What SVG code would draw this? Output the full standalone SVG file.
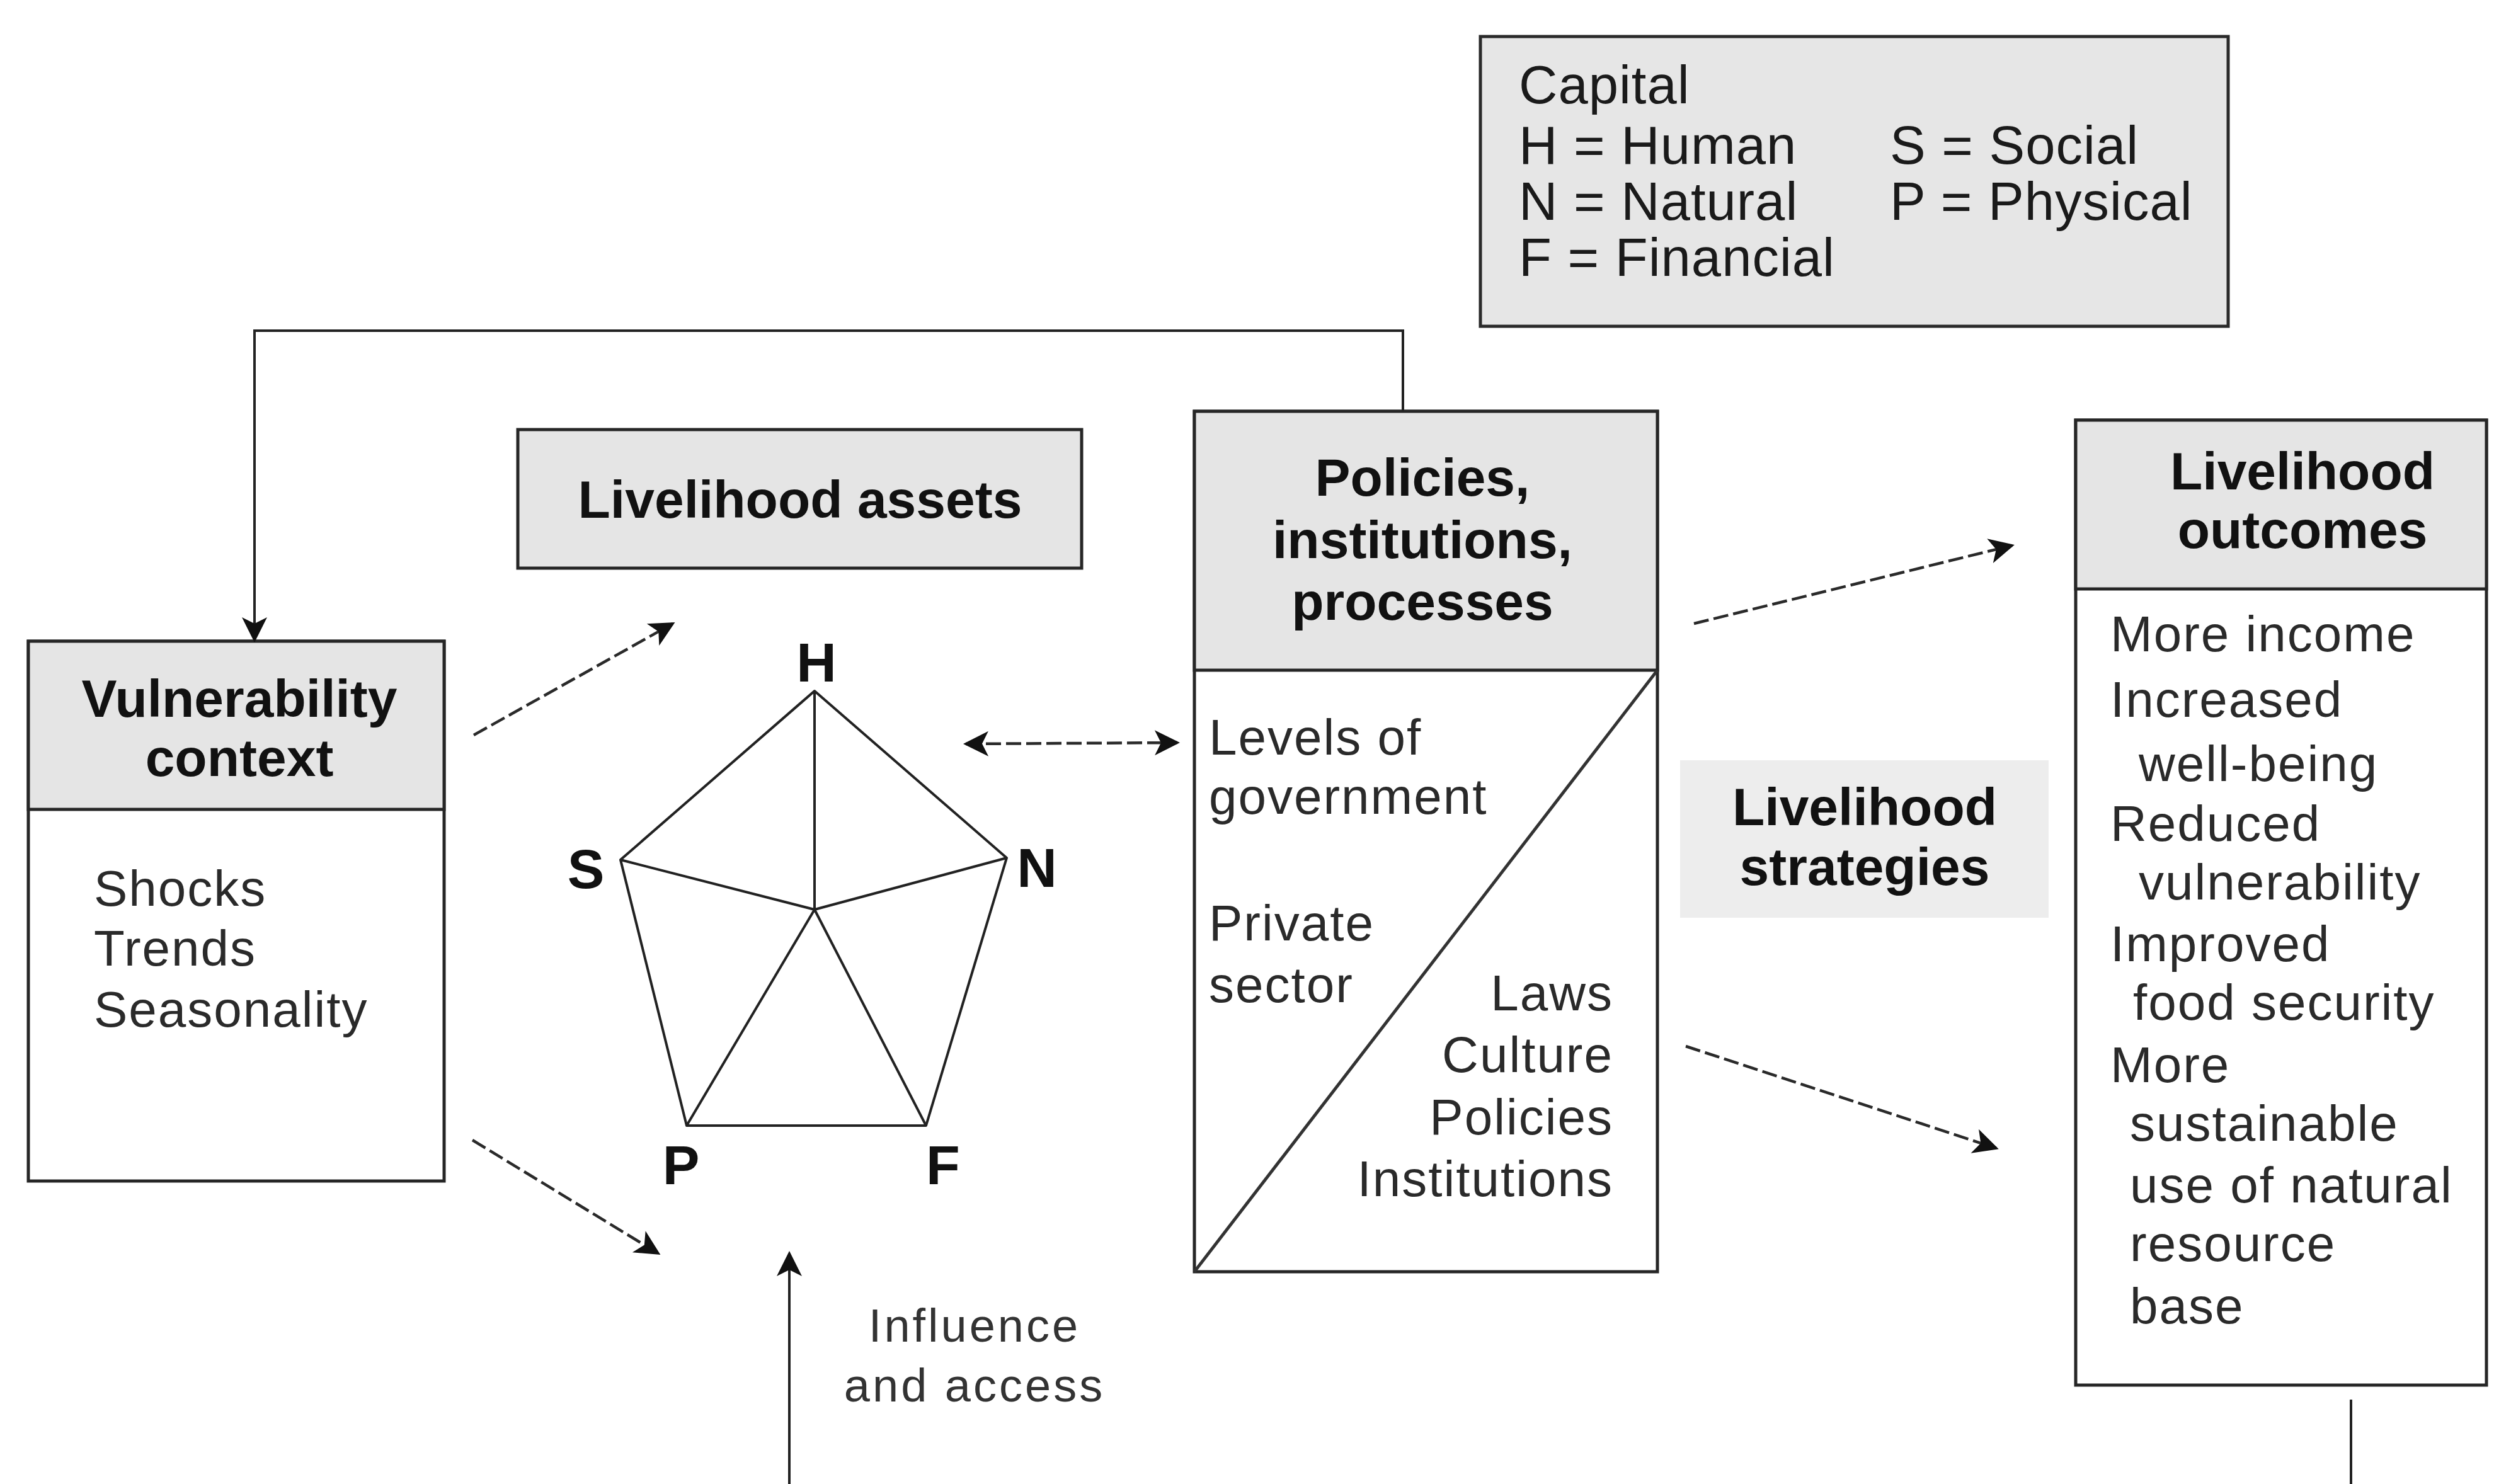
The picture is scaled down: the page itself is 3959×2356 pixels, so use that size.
<svg xmlns="http://www.w3.org/2000/svg" width="3959" height="2356" viewBox="0 0 3959 2356">
<style>
  .box { fill: #ffffff; stroke: #262626; stroke-width: 5; }
  .hdr { fill: #e5e5e5; stroke: #262626; stroke-width: 5; }
  .div { stroke: #333333; stroke-width: 5; fill: none; }
  .h { font-family: "Liberation Sans", Arial, sans-serif; font-weight: bold; font-size: 84px; fill: #111111; text-anchor: middle; }
  .b { font-family: "Liberation Sans", Arial, sans-serif; font-size: 80px; fill: #2a2a2a; letter-spacing: 2px; }
  .cap { font-family: "Liberation Sans", Arial, sans-serif; font-size: 85px; fill: #1a1a1a; letter-spacing: 1px; }
  .lab { font-family: "Liberation Sans", Arial, sans-serif; font-weight: bold; font-size: 88px; fill: #111111; text-anchor: middle; }
  .pent { stroke: #222222; stroke-width: 4; fill: none; stroke-linejoin: round; }
  .c { stroke: #222222; stroke-width: 4; fill: none; }
  .d { stroke: #2a2a2a; stroke-width: 4.5; fill: none; stroke-dasharray: 24 8; }
</style>
<defs>
  <marker id="ah" viewBox="0 0 10 10" refX="9" refY="5" markerWidth="52" markerHeight="40" markerUnits="userSpaceOnUse" orient="auto-start-reverse">
    <path d="M0,0 L10,5 L0,10 L2.5,5 z" fill="#111111"/>
  </marker>
</defs>
<rect width="3959" height="2356" fill="#ffffff"/>

<g id="capital-legend">
  <rect x="2350" y="58" width="1187" height="460" fill="#e6e6e6" stroke="#2a2a2a" stroke-width="5"/>
  <text class="cap" x="2411" y="164">Capital</text>
  <text class="cap" x="2411" y="260">H = Human</text>
  <text class="cap" x="2411" y="349">N = Natural</text>
  <text class="cap" x="2411" y="438">F = Financial</text>
  <text class="cap" x="3000" y="260">S = Social</text>
  <text class="cap" x="3000" y="349">P = Physical</text>
</g>

<g id="vulnerability-context">
  <rect class="box" x="45" y="1018" width="660" height="857"/>
  <rect class="hdr" x="45" y="1018" width="660" height="267"/>
  <text class="h" x="380" y="1138">Vulnerability</text>
  <text class="h" x="380" y="1232">context</text>
  <text class="b" x="149" y="1438">Shocks</text>
  <text class="b" x="149" y="1533">Trends</text>
  <text class="b" x="149" y="1630">Seasonality</text>
</g>

<g id="livelihood-assets">
  <rect class="hdr" x="822" y="682" width="895" height="220"/>
  <text class="h" x="1270" y="822">Livelihood assets</text>
</g>

<g id="asset-pentagon">
  <polygon class="pent" points="1293,1097 1598,1362 1470,1787 1090,1787 985,1365"/>
  <line class="pent" x1="1293" y1="1444" x2="1293" y2="1097"/>
  <line class="pent" x1="1293" y1="1444" x2="985" y2="1365"/>
  <line class="pent" x1="1293" y1="1444" x2="1598" y2="1362"/>
  <line class="pent" x1="1293" y1="1444" x2="1090" y2="1787"/>
  <line class="pent" x1="1293" y1="1444" x2="1470" y2="1787"/>
  <text class="lab" x="1296" y="1082">H</text>
  <text class="lab" x="930" y="1410">S</text>
  <text class="lab" x="1646" y="1408">N</text>
  <text class="lab" x="1081" y="1880">P</text>
  <text class="lab" x="1497" y="1880">F</text>
</g>

<g id="policies-institutions-processes">
  <rect class="box" x="1896" y="653" width="735" height="1366"/>
  <rect class="hdr" x="1896" y="653" width="735" height="411"/>
  <line class="div" x1="1896" y1="2019" x2="2631" y2="1064"/>
  <text class="h" x="2258" y="787">Policies,</text>
  <text class="h" x="2258" y="886">institutions,</text>
  <text class="h" x="2258" y="984">processes</text>
  <text class="b" x="1919" y="1198">Levels of</text>
  <text class="b" x="1919" y="1292">government</text>
  <text class="b" x="1919" y="1493">Private</text>
  <text class="b" x="1919" y="1591">sector</text>
  <text class="b" x="2561" y="1604" text-anchor="end">Laws</text>
  <text class="b" x="2561" y="1702" text-anchor="end">Culture</text>
  <text class="b" x="2561" y="1801" text-anchor="end">Policies</text>
  <text class="b" x="2561" y="1899" text-anchor="end">Institutions</text>
</g>

<g id="livelihood-strategies">
  <rect x="2667" y="1207" width="585" height="250" fill="#ededed"/>
  <text class="h" x="2960" y="1310">Livelihood</text>
  <text class="h" x="2960" y="1405">strategies</text>
</g>

<g id="livelihood-outcomes">
  <rect class="box" x="3295" y="667" width="652" height="1532"/>
  <rect class="hdr" x="3295" y="667" width="652" height="268"/>
  <text class="h" x="3655" y="777">Livelihood</text>
  <text class="h" x="3655" y="870">outcomes</text>
  <text class="b" x="3350" y="1034">More income</text>
  <text class="b" x="3350" y="1138">Increased</text>
  <text class="b" x="3395" y="1240">well-being</text>
  <text class="b" x="3350" y="1335">Reduced</text>
  <text class="b" x="3395" y="1428">vulnerability</text>
  <text class="b" x="3350" y="1526">Improved</text>
  <text class="b" x="3386" y="1619">food security</text>
  <text class="b" x="3350" y="1718">More</text>
  <text class="b" x="3381" y="1811">sustainable</text>
  <text class="b" x="3381" y="1909">use of natural</text>
  <text class="b" x="3381" y="2002">resource</text>
  <text class="b" x="3381" y="2101">base</text>
</g>

<g id="influence-label">
  <text class="b" x="1547" y="2130" text-anchor="middle" style="font-size:74px;letter-spacing:4px;fill:#333333">Influence</text>
  <text class="b" x="1547" y="2225" text-anchor="middle" style="font-size:74px;letter-spacing:4px;fill:#333333">and access</text>
</g>

<g id="connectors">
  <path class="c" d="M2227,653 V525 H404 V1016" marker-end="url(#ah)"/>
  <line class="d" x1="752" y1="1167" x2="1068" y2="990" marker-end="url(#ah)"/>
  <line class="d" x1="750" y1="1810" x2="1045" y2="1990" marker-end="url(#ah)"/>
  <line class="d" x1="1533" y1="1181" x2="1869" y2="1179" marker-start="url(#ah)" marker-end="url(#ah)"/>
  <line class="d" x1="2689" y1="990" x2="3194" y2="866" marker-end="url(#ah)"/>
  <line class="d" x1="2676" y1="1661" x2="3169" y2="1823" marker-end="url(#ah)"/>
  <line class="c" x1="1253" y1="2356" x2="1253" y2="1990" marker-end="url(#ah)"/>
  <line class="c" x1="3732" y1="2222" x2="3732" y2="2356"/>
</g>
</svg>
